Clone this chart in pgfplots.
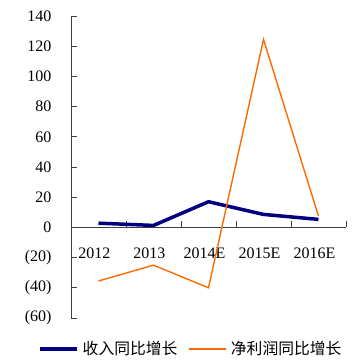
\documentclass[border=0pt]{standalone}
\usepackage{pgfplots}
\pgfplotsset{compat=1.18}
\usepackage{fontspec}
\setmainfont{Liberation Serif}
\newfontfamily\cjk{Noto Sans CJK SC}
\definecolor{navyline}{RGB}{0,0,128}
\definecolor{orangeline}{RGB}{255,105,0}
\definecolor{axgray}{RGB}{64,64,64}
\begin{document}
\begin{tikzpicture}
\begin{axis}[
  at={(0pt,0pt)}, anchor=south west,
  scale only axis, width=275pt, height=302pt,
  xmin=-0.5, xmax=4.5, ymin=-60, ymax=140,
  axis x line=middle, axis y line=left,
  axis line style={-, axgray, line width=0.8pt},
  xtick={0,1,2,3,4},
  xticklabels={2012,2013,2014E,2015E,2016E},
  minor xtick={0.5,1.5,2.5,3.5,4.5},
  ytick={-60,-40,...,140},
  yticklabels={(60),(40),(20),0,20,40,60,80,100,120,140},
  tick align=inside,
  major tick length=6pt, minor tick length=6pt,
  x tick style={draw=none},
  minor x tick style={draw=axgray, line width=0.8pt},
  y tick style={axgray, line width=0.8pt},
  tick label style={font=\fontsize{16}{18}\selectfont},
  /pgf/number format/assume math mode=true,
  xticklabel style={yshift=-17pt, xshift=-4pt},
  yticklabel style={xshift=-16pt},
  legend columns=2,
  legend style={draw=none, fill=none, at={(0.436,-0.1026)}, anchor=center,
    font=\cjk\fontsize{15.8}{17}\selectfont, column sep=2pt,
    /tikz/every even column/.append style={column sep=9pt}},
  legend image code/.code={\draw[#1] (0pt,0pt) -- (37pt,0pt);},
  clip=false,
]
\addplot[navyline, line width=3.5pt, line join=round] coordinates {(0,2.8) (1,1.3) (2,17) (3,8.6) (4,5.3)};
\addlegendentry{收入同比增长}
\addplot[orangeline, line width=1.4pt, line join=miter] coordinates {(0,-35.5) (1,-25) (2,-40) (3,124.5) (4,7.5)};
\addlegendentry{净利润同比增长}
\end{axis}
\pgfresetboundingbox
\useasboundingbox (-71pt,-42pt) rectangle (282pt,318pt);
\end{tikzpicture}
\end{document}
